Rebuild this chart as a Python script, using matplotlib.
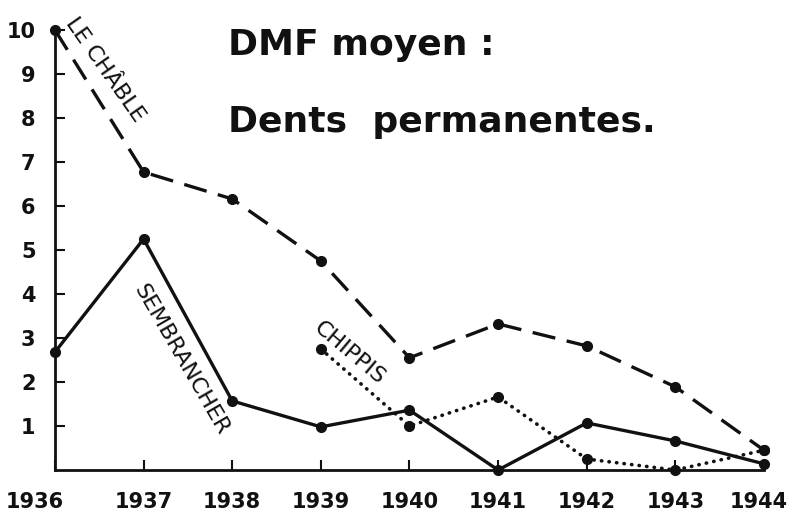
import numpy as np
import matplotlib.pyplot as plt
import matplotlib.transforms as mtransforms

# Data
years = [1936, 1937, 1938, 1939, 1940, 1941, 1942, 1943, 1944]
le_chable = [10.0, 6.77, 6.16, 4.75, 2.55, 3.32, 2.82, 1.89, 0.45]
sembrancher = [2.68, 5.25, 1.57, 0.98, 1.36, 0.0, 1.07, 0.66, 0.14]
chippis_years = [1939, 1940, 1941, 1942, 1943, 1944]
chippis = [2.75, 1.0, 1.66, 0.25, 0.0, 0.45]
y_ticks = [1, 2, 3, 4, 5, 6, 7, 8, 9, 10]

fig = plt.figure(figsize=(7.92, 5.17), dpi=100)
ax = fig.add_axes([0.0694, 0.0909, 0.8952, 0.8511])

ink = '#111111'
ax.plot(years, le_chable, color=ink, lw=2.4, dashes=(7, 3.5),
        marker='o', ms=7, clip_on=False)
ax.plot(years, sembrancher, color=ink, lw=2.4, marker='o', ms=7, clip_on=False)
ax.plot(chippis_years, chippis, color=ink, lw=2.6, dashes=(0.1, 2.0),
        dash_capstyle='round', marker='o', ms=7, clip_on=False)

ax.set_xlim(1936, 1944)
ax.set_ylim(0, 10)
for s in ['top', 'right']:
    ax.spines[s].set_visible(False)
for s in ['left', 'bottom']:
    ax.spines[s].set_linewidth(2)
    ax.spines[s].set_color(ink)

ax.set_xticks(years)
ax.set_xticklabels([str(y) for y in years])
ax.set_yticks(y_ticks)
ax.tick_params(axis='both', direction='in', length=7, width=1.5, colors=ink,
               labelsize=15)
ax.tick_params(axis='x', pad=16)
ax.tick_params(axis='y', pad=14)
for lbl in ax.get_xticklabels() + ax.get_yticklabels():
    lbl.set_fontweight('bold')

# nudge the end labels so they stay inside the figure
xl = ax.get_xticklabels()
xl[0].set_transform(xl[0].get_transform() +
                    mtransforms.ScaledTranslation(-20 / 100, 0, fig.dpi_scale_trans))
xl[-1].set_transform(xl[-1].get_transform() +
                     mtransforms.ScaledTranslation(-5 / 100, 0, fig.dpi_scale_trans))

# Title text
ax.text(1937.95, 9.65, 'DMF moyen :', fontsize=26, fontweight='bold',
        color=ink, va='center', ha='left')
ax.text(1937.95, 7.9, 'Dents  permanentes.', fontsize=26, fontweight='bold',
        color=ink, va='center', ha='left')

# Line labels
ax.text(1936.56, 9.09, 'LE CHÂBLE', fontsize=16, rotation=-55, color=ink,
        ha='center', va='center', rotation_mode='anchor')
ax.text(1937.42, 2.5, 'SEMBRANCHER', fontsize=16, rotation=-60, color=ink,
        ha='center', va='center', rotation_mode='anchor')
ax.text(1939.32, 2.66, 'CHIPPIS', fontsize=16, rotation=-40, color=ink,
        ha='center', va='center', rotation_mode='anchor')

fig.savefig('out.png', dpi=100)
